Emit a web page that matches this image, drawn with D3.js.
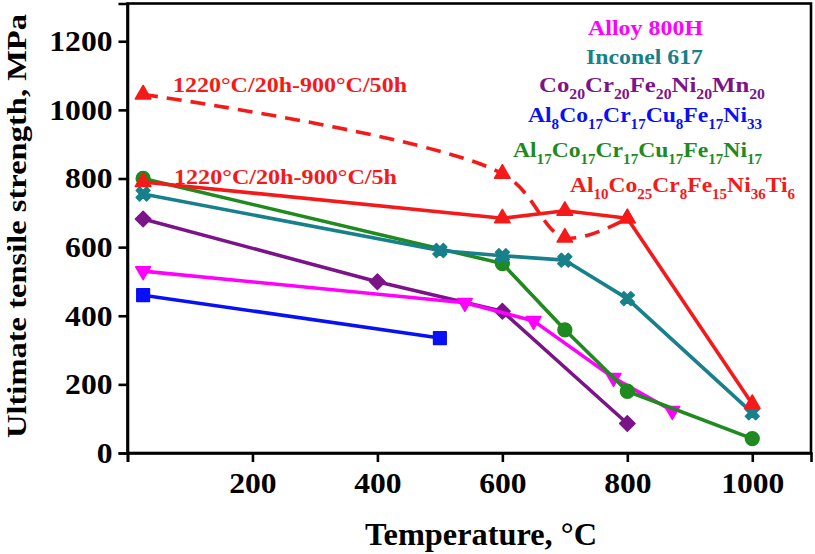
<!DOCTYPE html>
<html>
<head>
<meta charset="utf-8">
<script src="https://cdn.jsdelivr.net/npm/d3@7"></script>
<style>
  html, body { margin: 0; padding: 0; background: #fff; }
  svg { display: block; }
  text { font-family: "Liberation Serif", Tinos, "Times New Roman", serif; font-weight: bold; }
</style>
</head>
<body>
<svg id="chart" width="815" height="554"></svg>
<script>
// Ultimate tensile strength (MPa) versus test temperature (°C)
const tempsAlloy800H = [25, 540, 650, 778, 872];
const utsAlloy800H   = [530, 438, 385, 219, 123];

const tempsInconel617 = [25, 500, 600, 700, 800, 1000];
const utsInconel617   = [755, 590, 575, 562, 450, 117];

const tempsCoCrFeNiMn = [25, 400, 600, 800];
const utsCoCrFeNiMn   = [682, 499, 413, 86];

const tempsAl8 = [25, 500];
const utsAl8   = [460, 335];

const tempsAl17 = [25, 600, 700, 800, 1000];
const utsAl17   = [800, 552, 359, 180, 42];

const tempsAl10Short = [25, 600, 700, 800, 1000];
const utsAl10Short   = [790, 684, 706, 684, 143];   // 1220°C/20h-900°C/5h

const tempsAl10Long = [25, 600, 700, 800];
const utsAl10Long   = [1045, 814, 628, 684];        // 1220°C/20h-900°C/50h

const xTicks = [0, 200, 400, 600, 800, 1000];
const yTicks = [0, 200, 400, 600, 800, 1000, 1200];

const colors = {
  alloy800h: "#ff00ff",
  inconel: "#17808a",
  cantor: "#7b1488",
  al8: "#0a10f5",
  al17: "#1f8a1f",
  al10: "#f51a1a"
};

const svg = d3.select("#chart");
const plotLeft = 127.5, plotRight = 811, plotTop = 3.5, plotBottom = 453;

const x = d3.scaleLinear().domain([0, 1094]).range([plotLeft, plotRight]);
const y = d3.scaleLinear().domain([0, 1310]).range([plotBottom, plotTop]);

// squeeze or stretch a text element to a given length along its reading direction
function fitTo(sel, width) {
  sel.attr("textLength", width).attr("lengthAdjust", "spacingAndGlyphs");
}
const digitWidth = 15.8;

// frame
svg.append("rect")
  .attr("x", plotLeft).attr("y", plotTop)
  .attr("width", plotRight - plotLeft).attr("height", plotBottom - plotTop)
  .attr("fill", "none").attr("stroke", "#000").attr("stroke-width", 2.6);

// axes
const xAxis = svg.append("g")
  .attr("transform", `translate(0,${plotBottom})`)
  .call(d3.axisBottom(x).tickValues(xTicks).tickSize(9).tickPadding(10)
        .tickFormat(d => d === 0 ? "" : d3.format("d")(d)));
const yAxis = svg.append("g")
  .attr("transform", `translate(${plotLeft},0)`)
  .call(d3.axisLeft(y).tickValues(yTicks).tickSize(9).tickPadding(6)
        .tickFormat(d3.format("d")));

[xAxis, yAxis].forEach(g => {
  g.attr("font-family", null);
  g.select(".domain").attr("stroke", "#000").attr("stroke-width", 2.6);
  g.selectAll(".tick line").attr("stroke", "#000").attr("stroke-width", 2.6);
  g.selectAll(".tick text")
    .attr("fill", "#000")
    .style("font-size", "29px")
    .each(function () {
      const n = this.textContent.length;
      if (n) fitTo(d3.select(this), n * digitWidth);
    });
});

// axis titles
svg.append("text")
  .attr("x", 481).attr("y", 545)
  .attr("text-anchor", "middle")
  .style("font-size", "31px")
  .text("Temperature, °C")
  .call(fitTo, 232);

svg.append("text")
  .attr("transform", "translate(26,226) rotate(-90)")
  .attr("text-anchor", "middle")
  .style("font-size", "27px")
  .text("Ultimate tensile strength, MPa")
  .call(fitTo, 424);

// series
const lineGen = d3.line().x(d => x(d[0])).y(d => y(d[1]));
const curveGen = d3.line().x(d => x(d[0])).y(d => y(d[1])).curve(d3.curveCatmullRom.alpha(0.5));

function series(temps, vals, color, symbol, size, rotate, opts = {}) {
  const pts = temps.map((t, i) => [t, vals[i]]);
  svg.append("path")
    .datum(pts)
    .attr("d", opts.curved ? curveGen : lineGen)
    .attr("fill", "none")
    .attr("stroke", color)
    .attr("stroke-width", 3.6)
    .attr("stroke-linejoin", "round")
    .attr("stroke-dasharray", opts.dashed ? "15,9" : null);
  svg.append("g").selectAll("path")
    .data(pts)
    .join("path")
    .attr("d", d3.symbol().type(symbol).size(size))
    .attr("transform", d => `translate(${x(d[0])},${y(d[1])}) rotate(${rotate})`)
    .attr("fill", color)
    .attr("stroke", color)
    .attr("stroke-width", 1.5)
    .attr("stroke-linejoin", "round");
}

series(tempsAl8, utsAl8, colors.al8, d3.symbolSquare, 160, 0);
series(tempsCoCrFeNiMn, utsCoCrFeNiMn, colors.cantor, d3.symbolSquare, 120, 45);
series(tempsAlloy800H, utsAlloy800H, colors.alloy800h, d3.symbolTriangle, 95, 180);
series(tempsAl17, utsAl17, colors.al17, d3.symbolCircle, 150, 0);
series(tempsInconel617, utsInconel617, colors.inconel, d3.symbolCross, 120, 45);
series(tempsAl10Long, utsAl10Long, colors.al10, d3.symbolTriangle, 105, 0, { dashed: true, curved: true });
series(tempsAl10Short, utsAl10Short, colors.al10, d3.symbolTriangle, 105, 0);

// heat-treatment annotations
svg.append("text").attr("x", 173).attr("y", 92)
  .attr("fill", colors.al10).style("font-size", "22px")
  .text("1220°C/20h-900°C/50h").call(fitTo, 234);
svg.append("text").attr("x", 174).attr("y", 184)
  .attr("fill", colors.al10).style("font-size", "22px")
  .text("1220°C/20h-900°C/5h").call(fitTo, 223);

// legend: each entry as [text, subscript] pieces
const legendEntries = [
  { parts: [["Alloy 800H", ""]], color: colors.alloy800h, x: 588, y: 35, w: 115 },
  { parts: [["Inconel 617", ""]], color: colors.inconel, x: 586, y: 64, w: 117 },
  { parts: [["Co", "20"], ["Cr", "20"], ["Fe", "20"], ["Ni", "20"], ["Mn", "20"]], color: colors.cantor, x: 539, y: 92, w: 226 },
  { parts: [["Al", "8"], ["Co", "17"], ["Cr", "17"], ["Cu", "8"], ["Fe", "17"], ["Ni", "33"]], color: colors.al8, x: 528, y: 122, w: 234 },
  { parts: [["Al", "17"], ["Co", "17"], ["Cr", "17"], ["Cu", "17"], ["Fe", "17"], ["Ni", "17"]], color: colors.al17, x: 513, y: 157, w: 249 },
  { parts: [["Al", "10"], ["Co", "25"], ["Cr", "8"], ["Fe", "15"], ["Ni", "36"], ["Ti", "6"]], color: colors.al10, x: 570, y: 192, w: 225 }
];

legendEntries.forEach(e => {
  const t = svg.append("text")
    .attr("x", e.x).attr("y", e.y)
    .attr("fill", e.color)
    .style("font-size", "22px");
  let shifted = false;
  e.parts.forEach(([main, sub]) => {
    t.append("tspan").attr("dy", shifted ? -7 : 0).style("font-size", "22px").text(main);
    shifted = false;
    if (sub) {
      t.append("tspan").attr("dy", 7).style("font-size", "14px").text(sub);
      shifted = true;
    }
  });
  t.call(fitTo, e.w);
});
</script>
</body>
</html>
